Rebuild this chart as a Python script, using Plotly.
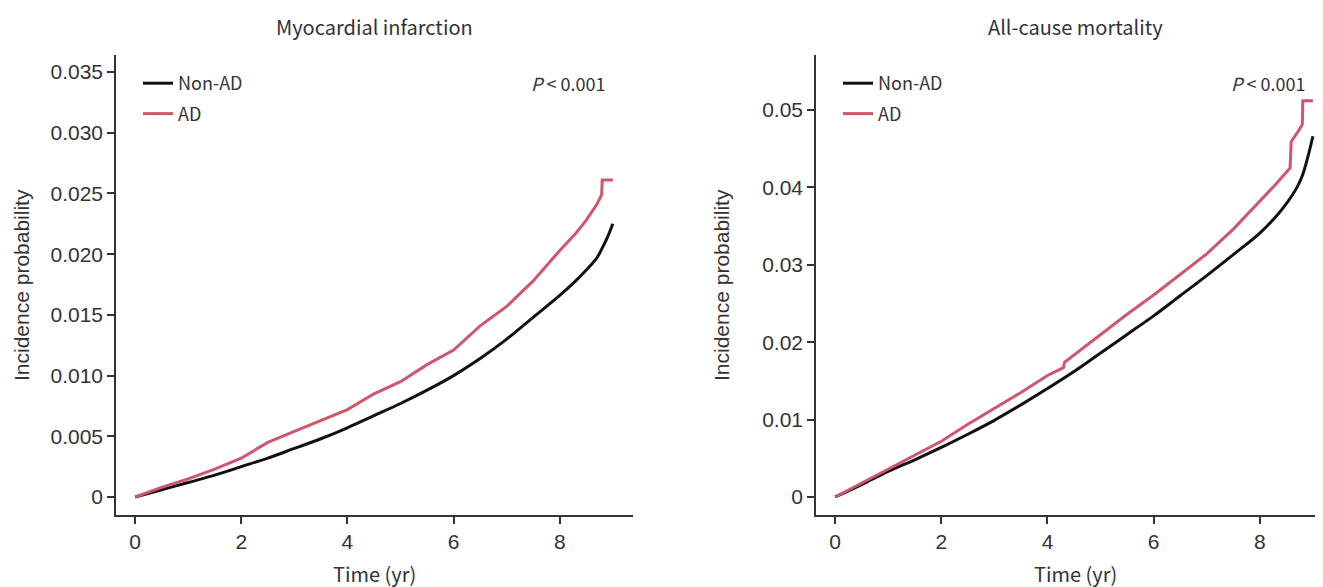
import plotly.graph_objects as go

# ---- data ----
mi_nonad_t = [0, 0.5, 1, 1.5, 2, 2.5, 3, 3.5, 4, 4.5, 5, 5.5, 6, 6.5, 7, 7.5, 8, 8.3, 8.5, 8.7, 8.8, 8.9, 9.0]
mi_nonad = [0, 0.0006, 0.0012, 0.0018, 0.0025, 0.0032, 0.0040, 0.0048, 0.0057, 0.0067, 0.0077, 0.0088, 0.0100,
            0.0114, 0.0130, 0.0148, 0.0166, 0.0178, 0.0187, 0.0197, 0.0205, 0.0214, 0.0225]
mi_ad_t = [0, 0.5, 1, 1.5, 2, 2.5, 3, 3.5, 4, 4.5, 5, 5.5, 6, 6.5, 7, 7.5, 8, 8.3, 8.5, 8.7, 8.79, 8.8, 9.0]
mi_ad = [0, 0.0008, 0.0015, 0.0023, 0.0032, 0.0045, 0.0054, 0.0063, 0.0072, 0.0085, 0.0095, 0.0109, 0.0121,
         0.0141, 0.0157, 0.0178, 0.0203, 0.0217, 0.0228, 0.0241, 0.0249, 0.0261, 0.0261]

acm_nonad_t = [0, 0.5, 1, 1.5, 2, 2.5, 3, 3.5, 4, 4.5, 5, 5.5, 6, 6.5, 7, 7.5, 8, 8.3, 8.5, 8.7, 8.8, 8.9, 9.0]
acm_nonad = [0, 0.0016, 0.0033, 0.0048, 0.0064, 0.0081, 0.0099, 0.0119, 0.0140, 0.0162, 0.0186, 0.0210, 0.0234,
             0.0260, 0.0286, 0.0313, 0.0341, 0.0362, 0.0379, 0.0400, 0.0415, 0.0438, 0.0466]
acm_ad_t = [0, 0.5, 1, 1.5, 2, 2.5, 3, 3.5, 4, 4.3, 4.32, 5, 5.5, 6, 6.5, 7, 7.5, 8, 8.3, 8.57, 8.59, 8.7, 8.8,
            8.81, 9.0]
acm_ad = [0, 0.0018, 0.0036, 0.0053, 0.0072, 0.0094, 0.0114, 0.0135, 0.0157, 0.0167, 0.0174, 0.0210, 0.0236,
          0.0261, 0.0287, 0.0314, 0.0346, 0.0382, 0.0404, 0.0425, 0.0459, 0.0470, 0.0481, 0.0512, 0.0512]

x_ticks = [0, 2, 4, 6, 8]
mi_yticks = [0, 0.005, 0.010, 0.015, 0.020, 0.025, 0.030, 0.035]
mi_ytext = ["0", "0.005", "0.010", "0.015", "0.020", "0.025", "0.030", "0.035"]
acm_yticks = [0, 0.01, 0.02, 0.03, 0.04, 0.05]
acm_ytext = ["0", "0.01", "0.02", "0.03", "0.04", "0.05"]

panel_titles = ["Myocardial infarction", "All-cause mortality"]
x_title = "Time (yr)"
y_title = "Incidence probability"
p_text = "<i>P</i> &lt; 0.001"

BLACK = "#111111"
RED = "#d0566b"
TXT = "#333333"
TITLE_FONT = "Noto Sans CJK KR"
TICK_FONT = "Liberation Sans"

OFF = 8  # page body margin
W, H = 1323 - OFF, 587 - OFF


def fx(px):
    return (px - OFF) / W


def fy(py):
    return 1 - (py - OFF) / H


fig = go.Figure()
fig.add_trace(go.Scatter(x=mi_nonad_t, y=mi_nonad, mode="lines", name="Non-AD", legendgroup="a",
                         line=dict(color=BLACK, width=3, shape="spline"), xaxis="x", yaxis="y", legend="legend"))
fig.add_trace(go.Scatter(x=mi_ad_t, y=mi_ad, mode="lines", name="AD", legendgroup="b",
                         line=dict(color=RED, width=3), xaxis="x", yaxis="y", legend="legend"))
fig.add_trace(go.Scatter(x=acm_nonad_t, y=acm_nonad, mode="lines", name="Non-AD", legendgroup="c",
                         line=dict(color=BLACK, width=3, shape="spline"), xaxis="x2", yaxis="y2", legend="legend2"))
fig.add_trace(go.Scatter(x=acm_ad_t, y=acm_ad, mode="lines", name="AD", legendgroup="d",
                         line=dict(color=RED, width=3), xaxis="x2", yaxis="y2", legend="legend2"))

axis_common = dict(showgrid=False, zeroline=False, showline=True, linecolor="#333333", linewidth=1.5,
                   ticks="outside", ticklen=7, tickwidth=1.5, tickcolor="#333333",
                   tickfont=dict(family=TICK_FONT, size=21, color=TXT))

ybot, ytop = fy(515), fy(55)
legend_common = dict(xanchor="left", yanchor="top", bgcolor="rgba(0,0,0,0)", tracegroupgap=4,
                     font=dict(family=TITLE_FONT, size=18, color=TXT))
fig.update_layout(
    width=W, height=H, margin=dict(l=0, r=0, t=0, b=0),
    plot_bgcolor="white", paper_bgcolor="white", showlegend=True,
    xaxis=dict(domain=[fx(116), fx(633)], range=[-0.36, 9.38], tickvals=x_ticks, anchor="y", **axis_common),
    yaxis=dict(domain=[ybot, ytop], range=[-0.00148, 0.0364], tickvals=mi_yticks, ticktext=mi_ytext,
               anchor="x", **axis_common),
    xaxis2=dict(domain=[fx(816), 1.0], range=[-0.36, 9.19], tickvals=x_ticks, anchor="y2", **axis_common),
    yaxis2=dict(domain=[ybot, ytop], range=[-0.00233, 0.0571], tickvals=acm_yticks, ticktext=acm_ytext,
                anchor="x2", **axis_common),
    legend=dict(x=fx(138), y=fy(65), **legend_common),
    legend2=dict(x=fx(838), y=fy(65), **legend_common),
)

annots = []
for cx, title in [(375, panel_titles[0]), (1075, panel_titles[1])]:
    annots.append(dict(text=title, x=fx(cx), y=fy(26), xref="paper", yref="paper", showarrow=False,
                       xanchor="center", yanchor="middle", font=dict(family=TITLE_FONT, size=20, color=TXT)))
    annots.append(dict(text=x_title, x=fx(cx), y=fy(573), xref="paper", yref="paper", showarrow=False,
                       xanchor="center", yanchor="middle", font=dict(family=TITLE_FONT, size=20, color=TXT)))
for yx in [21, 721]:
    annots.append(dict(text=y_title, x=fx(yx), y=fy(285), xref="paper", yref="paper", showarrow=False,
                       textangle=-90, xanchor="center", yanchor="middle",
                       font=dict(family=TICK_FONT, size=21, color=TXT)))
for px in [607, 1307]:
    annots.append(dict(text=p_text, x=fx(px), y=fy(83), xref="paper", yref="paper", showarrow=False,
                       xanchor="right", yanchor="middle", font=dict(family=TITLE_FONT, size=18, color=TXT)))
fig.update_layout(annotations=annots)

fig.write_html("out.html")
